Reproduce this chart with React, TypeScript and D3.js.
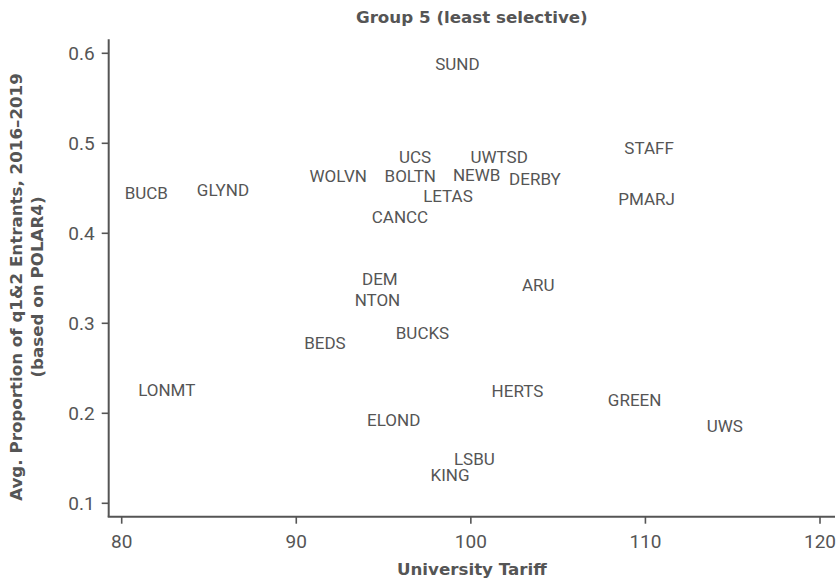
import React from "react";
import * as d3 from "d3";

const labels = ["SUND","UCS","UWTSD","STAFF","WOLVN","BOLTN","NEWB","DERBY","BUCB","GLYND","LETAS","PMARJ","CANCC","DEM","NTON","ARU","BUCKS","BEDS","LONMT","HERTS","GREEN","ELOND","UWS","LSBU","KING"];
const tariff = [99.23,96.8,101.62,110.21,92.4,96.53,100.33,103.67,81.41,85.8,98.69,110.07,95.94,94.79,94.65,103.86,97.23,91.64,82.58,102.67,109.38,95.58,114.55,100.2,98.81];
const propQ12 = [0.5876,0.4851,0.4851,0.4944,0.4639,0.4637,0.4648,0.4603,0.4451,0.4481,0.4417,0.4379,0.4181,0.3494,0.3256,0.3426,0.2892,0.2778,0.2264,0.2253,0.2151,0.1922,0.1856,0.149,0.132];
const xTicks = [80, 90, 100, 110, 120];
const yTicks = [0.1, 0.2, 0.3, 0.4, 0.5, 0.6];

const W = 837, H = 584;
const axisX = 108.7, axisY = 516.7, axisTop = 39.3, axisRight = 835;
const FONT = "Roboto, 'DejaVu Sans', sans-serif";
const BOLDFONT = "'DejaVu Sans', Roboto, sans-serif";
const COL = "#555";
const TFS = 16.7;

export default function App() {
  const x = d3.scaleLinear().domain([80, 120]).range([121.7, 820]);
  const y = d3.scaleLinear().domain([0.1, 0.6]).range([503.3, 53.3]);
  const panelCx = (axisX + axisRight) / 2;
  return (
    <svg width={W} height={H} style={{ position: "absolute", left: 0, top: 0, background: "#fff" }} fontFamily={FONT}>
      <text x={panelCx} y={23} textAnchor="middle" fontWeight="bold" fontFamily={BOLDFONT} fontSize={TFS} fill={COL}>Group 5 (least selective)</text>
      {/* axes */}
      <line x1={axisX} x2={axisX} y1={axisTop} y2={axisY} stroke={COL} strokeWidth={2} />
      <line x1={axisX - 1} x2={axisRight} y1={axisY} y2={axisY} stroke={COL} strokeWidth={2} />
      {yTicks.map((t) => (
        <g key={"y" + t}>
          <line x1={axisX - 7} x2={axisX} y1={y(t)} y2={y(t)} stroke={COL} strokeWidth={1.6} />
          <text x={axisX - 14} y={y(t)} dy="0.355em" textAnchor="end" fontSize={19} fill={COL}>{d3.format(".1f")(t)}</text>
        </g>
      ))}
      {xTicks.map((t) => (
        <g key={"x" + t}>
          <line x1={x(t)} x2={x(t)} y1={axisY} y2={axisY + 7} stroke={COL} strokeWidth={1.6} />
          <text x={x(t)} y={541} dy="0.355em" textAnchor="middle" fontSize={19} fill={COL}>{t}</text>
        </g>
      ))}
      {labels.map((l, i) => (
        <text key={l} x={x(tariff[i])} y={y(propQ12[i])} dy="0.355em" textAnchor="middle" fontSize={17} fill={COL}>{l}</text>
      ))}
      <text x={panelCx} y={575} textAnchor="middle" fontWeight="bold" fontFamily={BOLDFONT} fontSize={TFS} fill={COL}>University Tariff</text>
      <g transform="translate(0,287) rotate(-90)">
        <text x={0} y={22} textAnchor="middle" fontWeight="bold" fontFamily={BOLDFONT} fontSize={TFS} fill={COL}>Avg. Proportion of q1&amp;2 Entrants, 2016–2019</text>
        <text x={0} y={43} textAnchor="middle" fontWeight="bold" fontFamily={BOLDFONT} fontSize={TFS} fill={COL}>(based on POLAR4)</text>
      </g>
    </svg>
  );
}
